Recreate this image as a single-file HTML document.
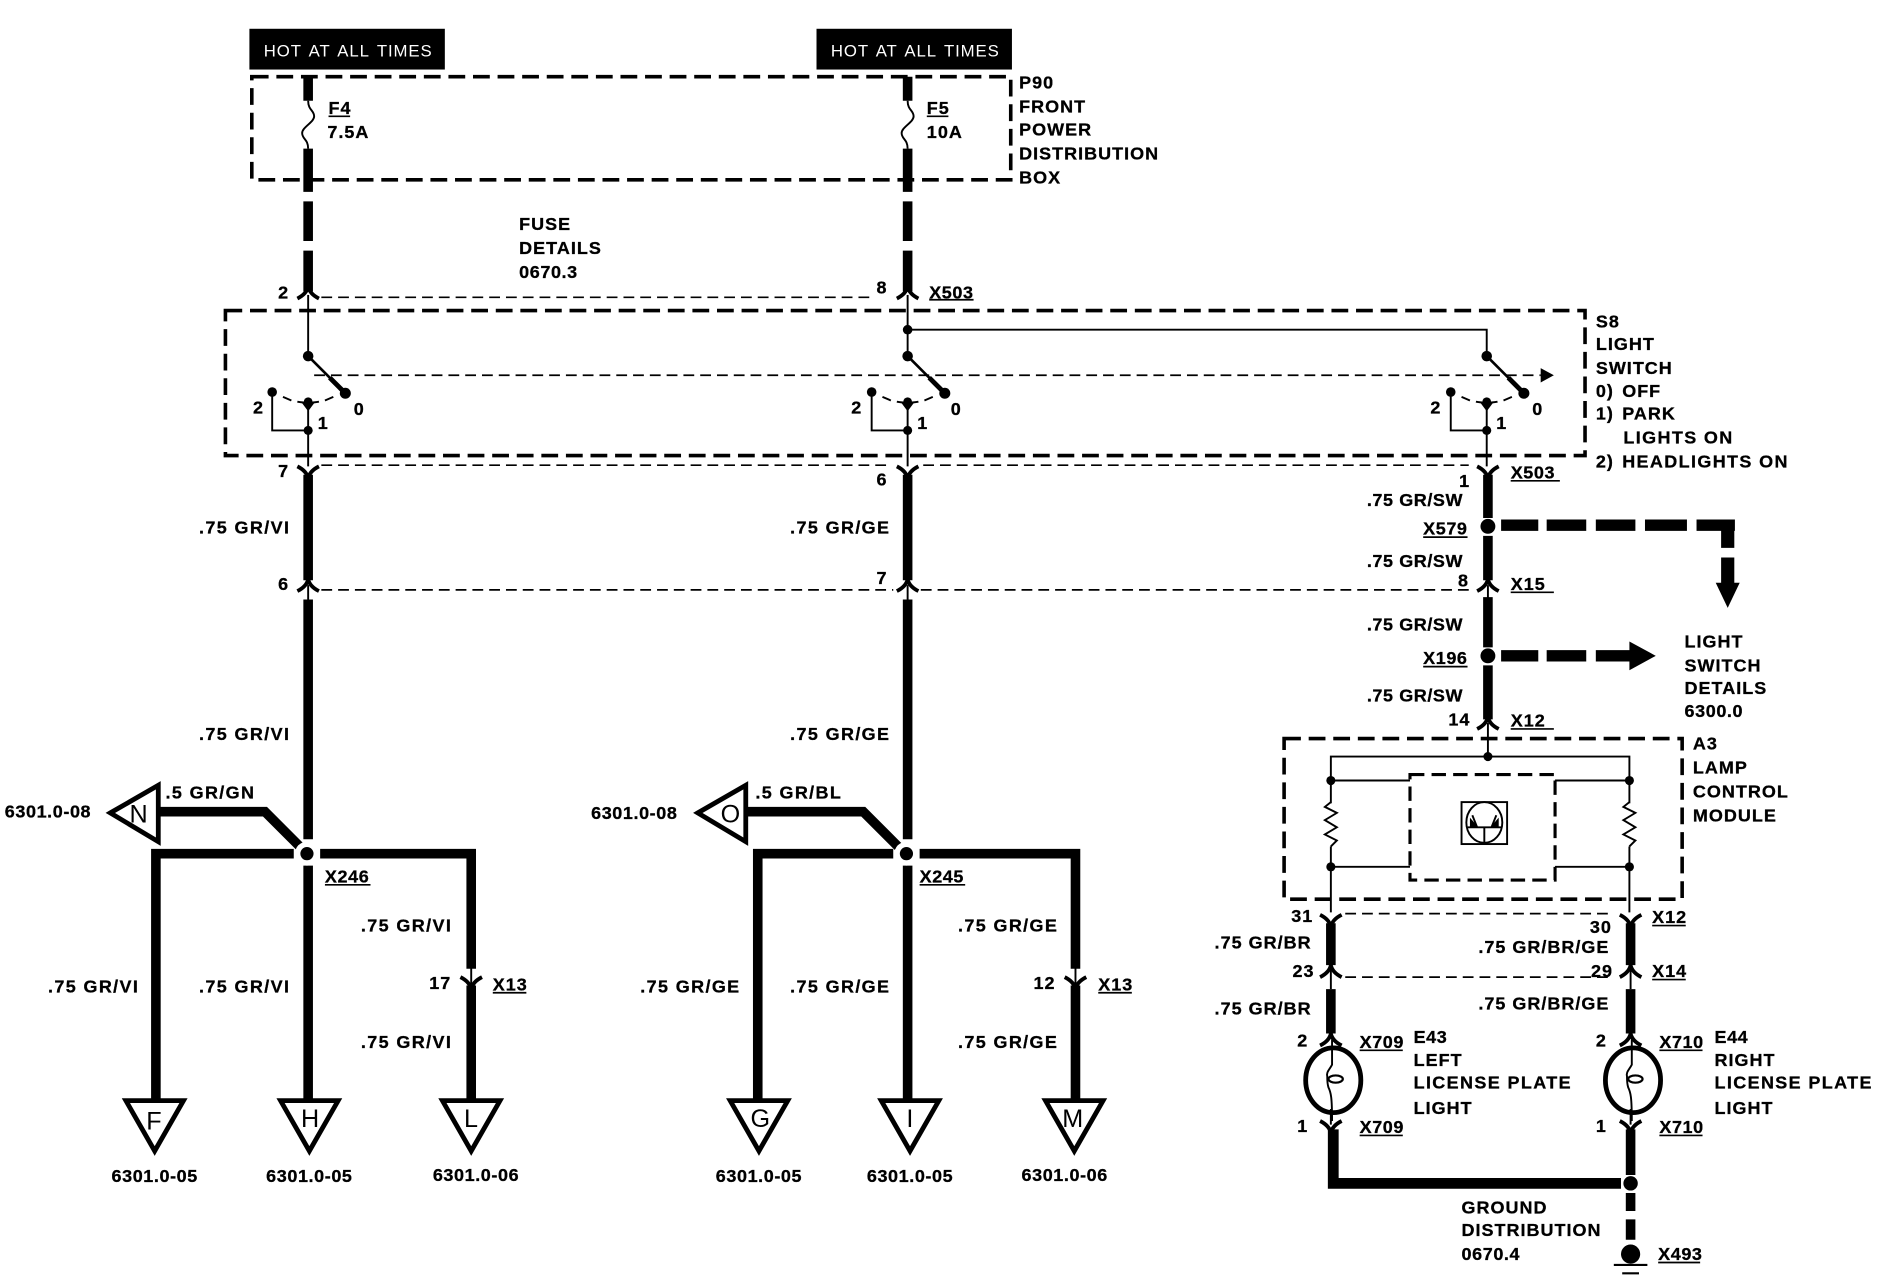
<!DOCTYPE html>
<html><head><meta charset="utf-8"><style>
html,body{margin:0;padding:0;background:#fff;width:1880px;height:1280px;overflow:hidden}
svg{display:block}
text{font-family:"Liberation Sans",sans-serif;font-weight:bold;font-size:15px;letter-spacing:.85px;fill:#000;stroke:#000;stroke-width:.25px}
.w{letter-spacing:1.15px}
.p{letter-spacing:.5px}
.t{font-weight:normal;font-size:14px;letter-spacing:.75px;word-spacing:2px;fill:#fff;stroke:none}
.l{font-weight:normal;font-size:21px;letter-spacing:0;stroke:none}
.th{fill:none;stroke:#000;stroke-width:8}
.n{fill:none;stroke:#000;stroke-width:1.6}
.bx{fill:none;stroke:#000;stroke-width:3;stroke-dasharray:14 6.5}
.bi{fill:none;stroke:#000;stroke-width:2.6;stroke-dasharray:12 6}
.d{fill:none;stroke:#000;stroke-width:1.4;stroke-dasharray:9 5}
.tri{fill:#fff;stroke:#000;stroke-width:4;stroke-linejoin:miter}
.c{fill:none;stroke:#000;stroke-width:3.2}
.u{fill:none;stroke:#000;stroke-width:1.4}
</style></head><body>
<svg xmlns="http://www.w3.org/2000/svg" width="1880" height="1280" viewBox="0 0 1568 1067.6">
<defs>
<path id="cu" class="c" d="M-9 -3C-5 -1 -1 2 0 7C1 2 5 -1 9 -3"/>
<path id="cd" class="c" d="M-9 3C-5 1 -1 -2 0 -7C1 -2 5 1 9 3"/>
<g id="sw">
<circle cx="0" cy="0" r="4.4"/>
<path d="M0 0L31 31" fill="none" stroke="#000" stroke-width="2.2"/>
<path d="M18 18L31 31" fill="none" stroke="#000" stroke-width="4"/>
<circle cx="31" cy="31" r="4.6"/>
<circle cx="-30" cy="30" r="4"/>
<path class="n" d="M-30 30V62H0M0 38V92"/>
<path class="n" d="M-21 34L-14 37M-9 38C-4 39 4 39 9 38M14 37L21 34"/>
<path d="M-6 38H6L0 46Z"/>
<circle cx="0" cy="38" r="3.6"/>
<circle cx="0" cy="62" r="3.8"/>
</g>
<g id="lamp">
<ellipse cx="0" cy="0" rx="23" ry="27" fill="none" stroke="#000" stroke-width="4"/>
<path class="n" stroke-width="2" d="M-1 -34V-13C-3 -9 -6 -7 -5 -3C-5 1 -5 3 -4 6C-2 10 -1 14 -1 34"/>
<ellipse cx="2" cy="-1" rx="6" ry="3" fill="none" stroke="#000" stroke-width="1.8"/>
</g>
<path id="fuse" fill="none" stroke="#000" stroke-width="1.6" d="M0 0C0 8 5 8 5 13C5 18 -5 22 -5 27C-5 32 0 32 0 40"/>
</defs>

<rect x="208" y="24" width="163" height="34"/>
<rect x="681" y="24" width="163" height="34"/>
<text class="t" x="220" y="47">HOT AT ALL TIMES</text>
<text class="t" x="693" y="47">HOT AT ALL TIMES</text>

<rect class="bx" x="210" y="64" width="633" height="86"/>
<rect class="bx" x="188" y="259" width="1134" height="121"/>
<rect class="bx" x="1071" y="616" width="332" height="134"/>
<rect class="bi" x="1176" y="646" width="121" height="88"/>

<path class="d" d="M268 248H725M268 388H740M770 388H1225M268 492H745M768 492H1225M1122 762H1345M1122 815H1345"/>
<path class="d" d="M262 313H1285"/><path d="M1285 307L1296 313L1285 319Z"/>

<!-- left column -->
<path class="th" d="M257 64V84M257 124V160M257 168V201M257 209V243M257 396V484M257 500V700"/>
<use href="#fuse" x="257" y="84"/>
<use href="#cd" x="257" y="246"/>
<path class="n" stroke-width="2" d="M257 246V297"/>
<use href="#sw" x="257" y="297"/>
<use href="#cu" x="257" y="392"/>
<use href="#cd" x="257" y="490"/>
<path class="n" stroke-width="2" d="M257 488V500"/>

<!-- mid column -->
<path class="th" d="M757 64V84M757 124V160M757 168V201M757 209V243M757 396V484M757 500V700"/>
<use href="#fuse" x="757" y="84"/>
<use href="#cd" x="757" y="246"/>
<path class="n" stroke-width="2" d="M757 246V297"/>
<circle cx="757" cy="275" r="4"/>
<path class="n" stroke-width="2" d="M757 275H1240V297"/>
<use href="#sw" x="757" y="297"/>
<use href="#cu" x="757" y="392"/>
<use href="#cd" x="757" y="490"/>
<path class="n" stroke-width="2" d="M757 488V500"/>

<!-- right switch -->
<use href="#sw" x="1240" y="297"/>
<path class="th" stroke-width="9" d="M1241 396V432M1241 447V484M1241 498V540M1241 555V600"/>
<use href="#cu" x="1241" y="392"/>
<use href="#cd" x="1241" y="490"/>
<use href="#cd" x="1241" y="605"/>
<circle cx="1241" cy="439" r="6.2"/><circle cx="1241" cy="547" r="6.2"/>
<path class="n" stroke-width="2" d="M1241 488V500M1241 603V630"/>
<path fill="none" stroke="#000" stroke-width="9.5" d="M1252 438H1283M1290 438H1323M1331 438H1364M1372 438H1407M1415 438H1447"/>
<path fill="none" stroke="#000" stroke-width="11" d="M1441 434V457M1441 465V487"/>
<path d="M1431 486H1451L1441 507Z"/>
<path fill="none" stroke="#000" stroke-width="9.5" d="M1252 547H1283M1290 547H1323M1331 547H1362"/>
<path d="M1359 535L1381 547L1359 559Z"/>

<!-- A3 internals -->
<path class="n" stroke-width="2" d="M1110 761V631H1359V761"/>
<g fill="#fff"><rect x="1104" y="670" width="12" height="36" stroke="none"/><rect x="1353" y="670" width="12" height="36" stroke="none"/></g>
<path class="n" stroke-width="1.8" d="M1110 669L1105 673L1115 678L1105 684L1115 690L1105 696L1115 701L1110 706"/>
<path class="n" stroke-width="1.8" d="M1359 669L1354 673L1364 678L1354 684L1364 690L1354 696L1364 701L1359 706"/>
<path class="n" d="M1110 651H1176M1297 651H1359M1110 723H1176M1297 723H1359" stroke-width="2"/>
<circle cx="1241" cy="631" r="3.8"/>
<circle cx="1110" cy="651" r="3.8"/><circle cx="1359" cy="651" r="3.8"/>
<circle cx="1110" cy="723" r="3.8"/><circle cx="1359" cy="723" r="3.8"/>
<rect x="1219" y="669" width="38" height="35" fill="none" stroke="#000" stroke-width="1.6"/>
<ellipse cx="1238" cy="686" rx="15" ry="17" fill="none" stroke="#000" stroke-width="1.6"/>
<path class="n" d="M1224 690H1252M1238 690V703M1228 680L1232 690M1248 680L1244 690"/>
<path d="M1226 682L1233 690L1226 690Z"/><path d="M1250 682L1243 690L1250 690Z"/>

<!-- right lower -->
<path class="th" d="M1110 770V805M1110 825V862M1360 770V805M1360 825V862M1360 942V980M1360 995V1010M1360 1017V1034"/>
<use href="#cu" x="1110" y="766"/><use href="#cu" x="1360" y="766"/>
<use href="#cd" x="1110" y="812"/><use href="#cd" x="1360" y="812"/>
<path class="n" stroke-width="2" d="M1110 808V825M1360 808V825"/>
<use href="#cd" x="1110" y="869"/><use href="#cd" x="1360" y="869"/>
<use href="#cu" x="1110" y="938"/><use href="#cu" x="1360" y="938"/>
<use href="#lamp" x="1112" y="901"/><use href="#lamp" x="1362" y="901"/>
<path class="n" stroke-width="3" d="M1110 925V938M1360 925V938"/>
<path fill="none" stroke="#000" stroke-width="9" d="M1112 942V987H1352"/>
<circle cx="1360" cy="987" r="6"/>
<circle cx="1360" cy="1046" r="8"/>
<path fill="none" stroke="#000" stroke-width="1.8" d="M1346 1055H1374M1353 1062H1367"/>

<!-- left bus -->
<path class="th" stroke-width="9" d="M132 677H221L250 706"/>
<path class="th" d="M245 712H130V920"/>
<path class="th" d="M267 712H393V808M393 822V920"/>
<path class="th" d="M257 722V920"/>
<circle cx="256" cy="712" r="10" fill="#fff"/><circle cx="256" cy="712" r="5.5"/>
<use href="#cu" x="393" y="818"/><path class="n" stroke-width="2" d="M393 806V824"/>
<polygon class="tri" points="92,678 132,655 132,702"/>
<polygon class="tri" points="105,918 153,918 129,960"/>
<polygon class="tri" points="234,918 282,918 258,960"/>
<polygon class="tri" points="369,918 417,918 393,960"/>

<!-- mid bus -->
<path class="th" stroke-width="9" d="M622 677H720L749 706"/>
<path class="th" d="M745 712H632V920"/>
<path class="th" d="M767 712H897V808M897 822V920"/>
<path class="th" d="M757 722V920"/>
<circle cx="756" cy="712" r="10" fill="#fff"/><circle cx="756" cy="712" r="5.5"/>
<use href="#cu" x="897" y="818"/><path class="n" stroke-width="2" d="M897 806V824"/>
<polygon class="tri" points="582,678 622,655 622,702"/>
<polygon class="tri" points="609,918 657,918 633,960"/>
<polygon class="tri" points="735,918 783,918 759,960"/>
<polygon class="tri" points="872,918 920,918 896,960"/>

<text class="l" x="108" y="686">N</text>
<text class="l" x="601" y="686">O</text>
<text class="l" x="122" y="942">F</text>
<text class="l" x="251" y="940">H</text>
<text class="l" x="387" y="940">L</text>
<text class="l" x="626" y="940">G</text>
<text class="l" x="756" y="940">I</text>
<text class="l" x="886" y="940">M</text>

<path class="u" d="M274 97H292M773 97H791M775 250H812M1260 401H1301M1187 448H1224M1260 494H1296M1187 556H1224M1260 608H1296M271 738H309M767 738H805M411 828H439M916 828H944M1378 772H1406M1378 817H1406M1134 876H1170M1384 876H1420M1134 947H1170M1384 947H1420M1383 1053H1418"/>

<text x="850" y="74">P90</text><text x="850" y="94">FRONT</text><text x="850" y="113">POWER</text><text x="850" y="133">DISTRIBUTION</text><text x="850" y="153">BOX</text>
<text x="433" y="192">FUSE</text><text x="433" y="212">DETAILS</text><text x="433" y="232" class="p">0670.3</text>
<text x="274" y="95">F4</text><text x="273" y="115">7.5A</text>
<text x="773" y="95">F5</text><text x="773" y="115">10A</text>
<text x="232" y="249">2</text><text x="731" y="245">8</text><text x="775" y="249" class="p">X503</text>
<text x="1331" y="273">S8</text><text x="1331" y="292">LIGHT</text><text x="1331" y="312">SWITCH</text><text x="1331" y="331">0)</text><text x="1353" y="331">OFF</text><text x="1331" y="350">1)</text><text x="1353" y="350">PARK</text><text x="1354" y="370" class="w">LIGHTS ON</text><text x="1331" y="390">2)</text><text x="1353" y="390" class="w">HEADLIGHTS ON</text>
<text x="211" y="345">2</text><text x="295" y="346">0</text><text x="265" y="358">1</text>
<text x="710" y="345">2</text><text x="793" y="346">0</text><text x="765" y="358">1</text>
<text x="1193" y="345">2</text><text x="1278" y="346">0</text><text x="1248" y="358">1</text>
<text x="232" y="398">7</text><text x="731" y="405">6</text><text x="1217" y="406">1</text><text x="1260" y="399" class="p">X503</text>
<text x="166" y="445" class="w">.75 GR/VI</text><text x="659" y="445" class="w">.75 GR/GE</text>
<text x="1140" y="422" class="p">.75 GR/SW</text><text x="1187" y="446" class="p">X579</text><text x="1140" y="473" class="p">.75 GR/SW</text>
<text x="232" y="492">6</text><text x="731" y="487">7</text><text x="1216" y="489">8</text><text x="1260" y="492">X15</text>
<text x="1140" y="526" class="p">.75 GR/SW</text><text x="1187" y="554" class="p">X196</text><text x="1140" y="585" class="p">.75 GR/SW</text>
<text x="1208" y="605">14</text><text x="1260" y="606">X12</text>
<text x="1405" y="540">LIGHT</text><text x="1405" y="560">SWITCH</text><text x="1405" y="579">DETAILS</text><text x="1405" y="598" class="p">6300.0</text>
<text x="1412" y="625">A3</text><text x="1412" y="645">LAMP</text><text x="1412" y="665">CONTROL</text><text x="1412" y="685">MODULE</text>
<text x="166" y="617" class="w">.75 GR/VI</text><text x="659" y="617" class="w">.75 GR/GE</text>
<text x="138" y="666" class="w">.5 GR/GN</text><text x="4" y="682" class="p">6301.0-08</text>
<text x="630" y="666" class="w">.5 GR/BL</text><text x="493" y="683" class="p">6301.0-08</text>
<text x="271" y="736" class="p">X246</text><text x="767" y="736" class="p">X245</text>
<text x="301" y="777" class="w">.75 GR/VI</text><text x="799" y="777" class="w">.75 GR/GE</text>
<text x="358" y="825">17</text><text x="862" y="825">12</text><text x="411" y="826">X13</text><text x="916" y="826">X13</text>
<text x="40" y="828" class="w">.75 GR/VI</text><text x="166" y="828" class="w">.75 GR/VI</text><text x="534" y="828" class="w">.75 GR/GE</text><text x="659" y="828" class="w">.75 GR/GE</text>
<text x="301" y="874" class="w">.75 GR/VI</text><text x="799" y="874" class="w">.75 GR/GE</text>
<text x="93" y="986" class="p">6301.0-05</text><text x="222" y="986" class="p">6301.0-05</text><text x="361" y="985" class="p">6301.0-06</text>
<text x="597" y="986" class="p">6301.0-05</text><text x="723" y="986" class="p">6301.0-05</text><text x="852" y="985" class="p">6301.0-06</text>
<text x="1077" y="769">31</text><text x="1326" y="778">30</text><text x="1378" y="770">X12</text>
<text x="1013" y="791">.75 GR/BR</text><text x="1233" y="795">.75 GR/BR/GE</text>
<text x="1078" y="815">23</text><text x="1327" y="815">29</text><text x="1378" y="815">X14</text>
<text x="1013" y="846">.75 GR/BR</text><text x="1233" y="842">.75 GR/BR/GE</text>
<text x="1082" y="873">2</text><text x="1134" y="874" class="p">X709</text><text x="1179" y="870" class="p">E43</text><text x="1179" y="889">LEFT</text><text x="1179" y="908" class="w">LICENSE PLATE</text><text x="1179" y="929">LIGHT</text>
<text x="1331" y="873">2</text><text x="1384" y="874" class="p">X710</text><text x="1430" y="870" class="p">E44</text><text x="1430" y="889">RIGHT</text><text x="1430" y="908" class="w">LICENSE PLATE</text><text x="1430" y="929">LIGHT</text>
<text x="1082" y="944">1</text><text x="1134" y="945" class="p">X709</text><text x="1331" y="944">1</text><text x="1384" y="945" class="p">X710</text>
<text x="1219" y="1012">GROUND</text><text x="1219" y="1031">DISTRIBUTION</text><text x="1219" y="1051" class="p">0670.4</text>
<text x="1383" y="1051" class="p">X493</text>
</svg>
</body></html>
